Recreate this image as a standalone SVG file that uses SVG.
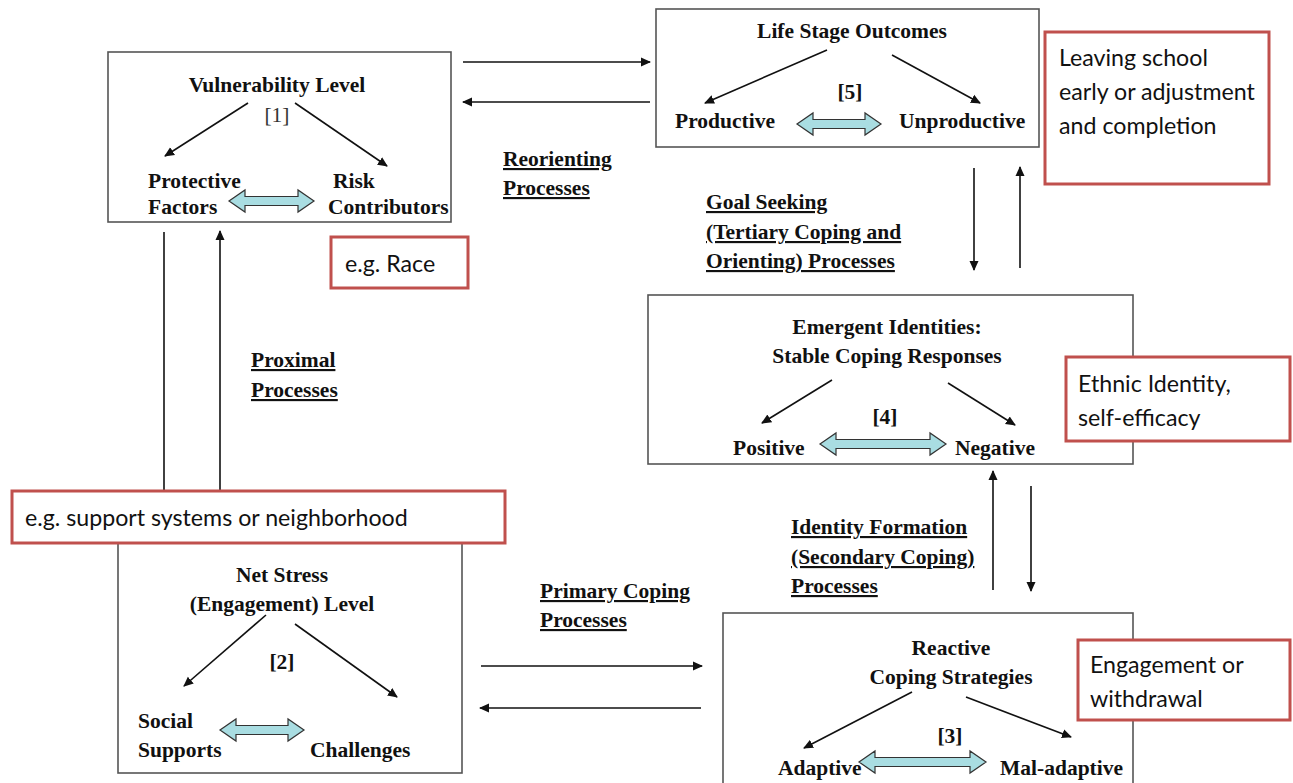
<svg xmlns="http://www.w3.org/2000/svg" width="1293" height="783" viewBox="0 0 1293 783">
<defs>
<marker id="ah" markerWidth="10" markerHeight="10" refX="9" refY="5" orient="auto" markerUnits="userSpaceOnUse">
<path d="M0,0.5 L10,5 L0,9.5 Z" fill="#111"/>
</marker>
<style>
.box{fill:#fff;stroke:#555;stroke-width:1.6}
.note{fill:#fff;stroke:#c0504d;stroke-width:3}
.t{font-family:"Liberation Serif","Times New Roman",serif;font-weight:bold;font-size:21.5px;fill:#111}
.tc{text-anchor:middle}
.reg{font-weight:normal;fill:#333}
.lbl{font-family:"Liberation Serif","Times New Roman",serif;font-weight:bold;font-size:21.5px;fill:#111;text-decoration:underline}
.n{font-family:Lato,"Open Sans",sans-serif;font-size:23.2px;fill:#111}
.ln{stroke:#111;stroke-width:1.6;fill:none}
.dbl{fill:#a9dde2;stroke:#333;stroke-width:1.2}
</style>
</defs>

<g id="connectors">
<line class="ln" x1="463" y1="62" x2="650" y2="62" marker-end="url(#ah)"/>
<line class="ln" x1="650" y1="102" x2="463" y2="102" marker-end="url(#ah)"/>
<line class="ln" x1="974" y1="168" x2="974" y2="270" marker-end="url(#ah)"/>
<line class="ln" x1="1020" y1="268" x2="1020" y2="167" marker-end="url(#ah)"/>
<line class="ln" x1="164" y1="232" x2="164" y2="500"/>
<line class="ln" x1="220" y1="500" x2="220" y2="231" marker-end="url(#ah)"/>
<line class="ln" x1="481" y1="666" x2="702" y2="666" marker-end="url(#ah)"/>
<line class="ln" x1="701" y1="708" x2="480" y2="708" marker-end="url(#ah)"/>
<line class="ln" x1="993" y1="590" x2="993" y2="471" marker-end="url(#ah)"/>
<line class="ln" x1="1031" y1="486" x2="1031" y2="591" marker-end="url(#ah)"/>
</g>

<g id="labels">
<text class="lbl" x="503" y="166">Reorienting</text>
<text class="lbl" x="503" y="195">Processes</text>
<text class="lbl" x="706" y="209">Goal Seeking</text>
<text class="lbl" x="706" y="239">(Tertiary Coping and</text>
<text class="lbl" x="706" y="268">Orienting) Processes</text>
<text class="lbl" x="251" y="367">Proximal</text>
<text class="lbl" x="251" y="397">Processes</text>
<text class="lbl" x="540" y="598">Primary Coping</text>
<text class="lbl" x="540" y="627">Processes</text>
<text class="lbl" x="791" y="534">Identity Formation</text>
<text class="lbl" x="791" y="564">(Secondary Coping)</text>
<text class="lbl" x="791" y="593">Processes</text>
</g>

<g id="vulnerability">
<rect class="box" x="108" y="52" width="343" height="170"/>
<text class="t tc" x="277" y="92">Vulnerability Level</text>
<text class="t tc reg" x="277" y="122">[1]</text>
<line class="ln" x1="248" y1="103" x2="165" y2="156" marker-end="url(#ah)"/>
<line class="ln" x1="295" y1="103" x2="387" y2="166" marker-end="url(#ah)"/>
<text class="t" x="148" y="188">Protective</text>
<text class="t" x="148" y="214">Factors</text>
<text class="t" x="333" y="188">Risk</text>
<text class="t" x="328" y="214">Contributors</text>
<path class="dbl" d="M229,201 L245,190 L245,196.5 L298,196.5 L298,190 L314,201 L298,212 L298,205.5 L245,205.5 L245,212 Z"/>
</g>

<g id="life-stage">
<rect class="box" x="656" y="9" width="383" height="138"/>
<text class="t tc" x="852" y="38">Life Stage Outcomes</text>
<line class="ln" x1="827" y1="50" x2="705" y2="103" marker-end="url(#ah)"/>
<line class="ln" x1="892" y1="55" x2="980" y2="103" marker-end="url(#ah)"/>
<text class="t tc" x="850" y="99">[5]</text>
<text class="t" x="675" y="128">Productive</text>
<text class="t" x="899" y="128">Unproductive</text>
<path class="dbl" d="M797,124 L813,113 L813,119.5 L865,119.5 L865,113 L881,124 L865,135 L865,128.5 L813,128.5 L813,135 Z"/>
</g>

<g id="emergent">
<rect class="box" x="648" y="295" width="485" height="169"/>
<text class="t tc" x="887" y="334">Emergent Identities:</text>
<text class="t tc" x="887" y="363">Stable Coping Responses</text>
<line class="ln" x1="832" y1="380" x2="762" y2="423" marker-end="url(#ah)"/>
<line class="ln" x1="948" y1="383" x2="1015" y2="425" marker-end="url(#ah)"/>
<text class="t tc" x="885" y="424">[4]</text>
<text class="t" x="733" y="455">Positive</text>
<text class="t" x="955" y="455">Negative</text>
<path class="dbl" d="M820,444 L836,433 L836,439.5 L930,439.5 L930,433 L946,444 L930,455 L930,448.5 L836,448.5 L836,455 Z"/>
</g>

<g id="net-stress">
<rect class="box" x="118" y="530" width="344" height="243"/>
<text class="t tc" x="282" y="582">Net Stress</text>
<text class="t tc" x="282" y="611">(Engagement) Level</text>
<line class="ln" x1="266" y1="615" x2="184" y2="686" marker-end="url(#ah)"/>
<line class="ln" x1="295" y1="624" x2="397" y2="697" marker-end="url(#ah)"/>
<text class="t tc" x="282" y="669">[2]</text>
<text class="t" x="138" y="728">Social</text>
<text class="t" x="138" y="757">Supports</text>
<text class="t" x="310" y="757">Challenges</text>
<path class="dbl" d="M220,730 L236,719 L236,725.5 L288,725.5 L288,719 L304,730 L288,741 L288,734.5 L236,734.5 L236,741 Z"/>
</g>

<g id="reactive">
<rect class="box" x="723" y="613" width="410" height="180"/>
<text class="t tc" x="951" y="655">Reactive</text>
<text class="t tc" x="951" y="684">Coping Strategies</text>
<line class="ln" x1="912" y1="692" x2="804" y2="748" marker-end="url(#ah)"/>
<line class="ln" x1="966" y1="697" x2="1071" y2="737" marker-end="url(#ah)"/>
<text class="t tc" x="950" y="743">[3]</text>
<text class="t" x="778" y="775">Adaptive</text>
<text class="t" x="1000" y="775">Mal-adaptive</text>
<path class="dbl" d="M859,762 L875,751 L875,757.5 L970,757.5 L970,751 L986,762 L970,773 L970,766.5 L875,766.5 L875,773 Z"/>
</g>

<g id="note-leaving">
<rect class="note" x="1045" y="32" width="224" height="152"/>
<text class="n" x="1059" y="66">Leaving school</text>
<text class="n" x="1059" y="100">early or adjustment</text>
<text class="n" x="1059" y="134">and completion</text>
</g>

<g id="note-race">
<rect class="note" x="331" y="237" width="137" height="51"/>
<text class="n" x="345" y="272">e.g. Race</text>
</g>

<g id="note-ethnic">
<rect class="note" x="1066" y="357" width="224" height="84"/>
<text class="n" x="1078" y="392">Ethnic Identity,</text>
<text class="n" x="1078" y="426">self-efficacy</text>
</g>

<g id="note-support">
<rect class="note" x="12" y="491" width="493" height="52"/>
<text class="n" x="25" y="526">e.g. support systems or neighborhood</text>
</g>

<g id="note-engagement">
<rect class="note" x="1078" y="640" width="212" height="80"/>
<text class="n" x="1090" y="673">Engagement or</text>
<text class="n" x="1090" y="707">withdrawal</text>
</g>
</svg>
